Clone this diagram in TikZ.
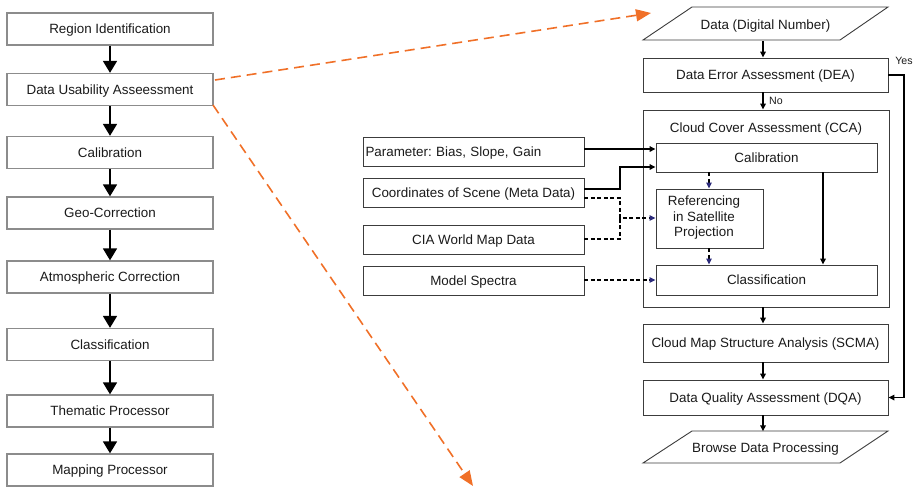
\documentclass[tikz,border=0pt]{standalone}
\usepackage{fontspec}
\setmainfont{Liberation Sans}
\usetikzlibrary{arrows.meta}
\definecolor{boxgray}{HTML}{8C8C8C}
\definecolor{darkline}{HTML}{3C3C3C}
\definecolor{txt}{HTML}{1A1A1A}
\definecolor{orng}{HTML}{F07028}
\definecolor{navyhead}{HTML}{2B2A7A}
\frenchspacing
\begin{document}
\begin{tikzpicture}[x=1pt,y=-1pt,
  every node/.style={text=txt,font=\fontsize{13.4}{15}\selectfont},
  oneline/.style={text depth=0pt},
  leftbox/.style={oneline,draw=boxgray,line width=1.3pt,minimum width=206pt,minimum height=32pt,inner sep=0pt},
  rbox/.style={oneline,draw=darkline,line width=0.9pt,minimum width=245pt,inner sep=0pt},
  innerbox/.style={draw=darkline,line width=0.9pt,inner sep=0pt},
  inbox/.style={oneline,draw=darkline,line width=0.9pt,minimum width=221pt,minimum height=29pt,inner sep=0pt},
  bigarrow/.style={line width=1.7pt,-{Triangle[length=12pt,width=14pt]}},
  solidarrow/.style={line width=1.5pt,-{Triangle[length=6pt,width=5.5pt]}},
  dasharrow/.style={line width=1.3pt,dash pattern=on 4pt off 2.5pt,-{Triangle[length=6pt,width=5.5pt,color=navyhead,fill=navyhead]}},
  dashline/.style={line width=1.3pt,dash pattern=on 4pt off 2.5pt},
  orangearrow/.style={draw=orng,line width=1.6pt,dash pattern=on 10pt off 6pt,-{Triangle[length=15pt,width=12pt,fill=orng,color=orng]}},
  smalllabel/.style={font=\fontsize{10.6}{12}\selectfont,inner sep=0pt}
]
\useasboundingbox (0,0) rectangle (918,488);

% ---------- left column ----------
\node[leftbox] (l1) at (110,29)  {Region Identification};
\node[leftbox] (l2) at (110,89.5){Data Usability Asseessment};
\node[leftbox] (l3) at (110,152.5){Calibration};
\node[leftbox] (l4) at (110,213) {Geo-Correction};
\node[leftbox] (l5) at (110,277) {Atmospheric Correction};
\node[leftbox] (l6) at (110,344.5){Classification};
\node[leftbox] (l7) at (110,411) {Thematic Processor};
\node[leftbox] (l8) at (110,470) {Mapping Processor};
\foreach \a/\b in {l1/l2,l2/l3,l3/l4,l4/l5,l5/l6,l6/l7,l7/l8}
  \draw[bigarrow] (\a.south) -- (\b.north);

% ---------- orange dashed arrows ----------
\coordinate (o1s) at (215,80);
\coordinate (o1e) at (651,13);
\coordinate (o2s) at (213,105);
\coordinate (o2e) at (473,486);
\draw[orangearrow] (o1s) -- (o1e);
\draw[orangearrow] (o2s) -- (o2e);

% ---------- right column ----------
\draw[darkline,line width=0.9pt] (692,7) -- (888,7) -- (840,40) -- (643,40) -- cycle;
\node[oneline,minimum width=245pt,minimum height=33pt,inner sep=0pt] (dat) at (765.5,24.5) {Data (Digital Number)};
\node[rbox,minimum height=34pt] (dea) at (765.5,75) {Data Error Assessment (DEA)};
\node[rbox,minimum width=246pt,minimum height=197pt] (cca) at (766,208.5) {};
\node[oneline,inner sep=0pt] (ccat) at (766,128) {Cloud Cover Assessment (CCA)};
\node[innerbox,oneline,minimum width=221pt,minimum height=29pt] (cal) at (766.5,157.5) {Calibration};
\node[innerbox,minimum width=107pt,minimum height=59pt] (ref) at (709.5,218.5) {};
\node[align=center,inner sep=0pt,font=\fontsize{13.4}{15.5}\selectfont] (reft) at (704,218) {Referencing\\in Satellite\\Projection};
\node[innerbox,oneline,minimum width=221pt,minimum height=30pt] (cls) at (766.5,280) {Classification};
\node[rbox,minimum height=38pt] (scma) at (765.5,343) {Cloud Map Structure Analysis (SCMA)};
\node[rbox,minimum height=35pt] (dqa) at (765.5,397.5) {Data Quality Assessment (DQA)};
\draw[darkline,line width=0.9pt] (692,431) -- (888,431) -- (840,463) -- (643,463) -- cycle;
\node[oneline,minimum width=245pt,minimum height=32pt,inner sep=0pt] (brw) at (765.5,447.5) {Browse Data Processing};

% input boxes
\node[inbox,text width=216pt,align=left] (par) at (473.5,151.5) {Parameter: Bias, Slope, Gain};
\node[inbox] (coo) at (473.5,192.5) {Coordinates of Scene (Meta Data)};
\node[inbox] (cia) at (473.5,239.5) {CIA World Map Data};
\node[inbox] (mod) at (473.5,280.5) {Model Spectra};

% main flow arrows
\draw[solidarrow] (dat.south -| 763,0) -- (dea.north -| 763,0);
\draw[solidarrow] (dea.south -| 763,0) -- (cca.north -| 763,0);
\node[smalllabel,anchor=west] (no) at (769,101) {No};
\draw[solidarrow] (cca.south -| 763,0) -- (scma.north -| 763,0);
\draw[solidarrow] (scma.south -| 763,0) -- (dqa.north -| 763,0);
\draw[solidarrow] (dqa.south -| 763,0) -- (brw.north -| 763,0);

% Yes loop
\coordinate (y1) at (904,75);
\coordinate (y2) at (904,397.5);
\draw[solidarrow] (dea.east) -- (y1) -- (y2) -- (dqa.east);
\node[smalllabel] (yes) at (904,61) {Yes};

% inputs into CCA
\draw[solidarrow] (par.east |- 0,149) -- (cal.west |- 0,149);
\coordinate (c1) at (620,189);
\coordinate (c2) at (620,167);
\draw[solidarrow] (coo.east |- c1) -- (c1) -- (c2) -- (cal.west |- c2);
\coordinate (d1) at (620,198);
\coordinate (d2) at (620,218);
\coordinate (d3) at (620,239);
\draw[dasharrow] (coo.east |- d1) -- (d1) -- (d2) -- (ref.west |- d2);
\draw[dashline] (cia.east |- d3) -- (d3) -- (d2);
\draw[dasharrow] (mod.east |- 0,280) -- (cls.west |- 0,280);

% inside CCA
\draw[dasharrow] (cal.south -| 709,0) -- (ref.north -| 709,0);
\draw[dasharrow] (ref.south -| 709,0) -- (cls.north -| 709,0);
\draw[solidarrow] (cal.south -| 823,0) -- (cls.north -| 823,0);
\end{tikzpicture}
\end{document}
